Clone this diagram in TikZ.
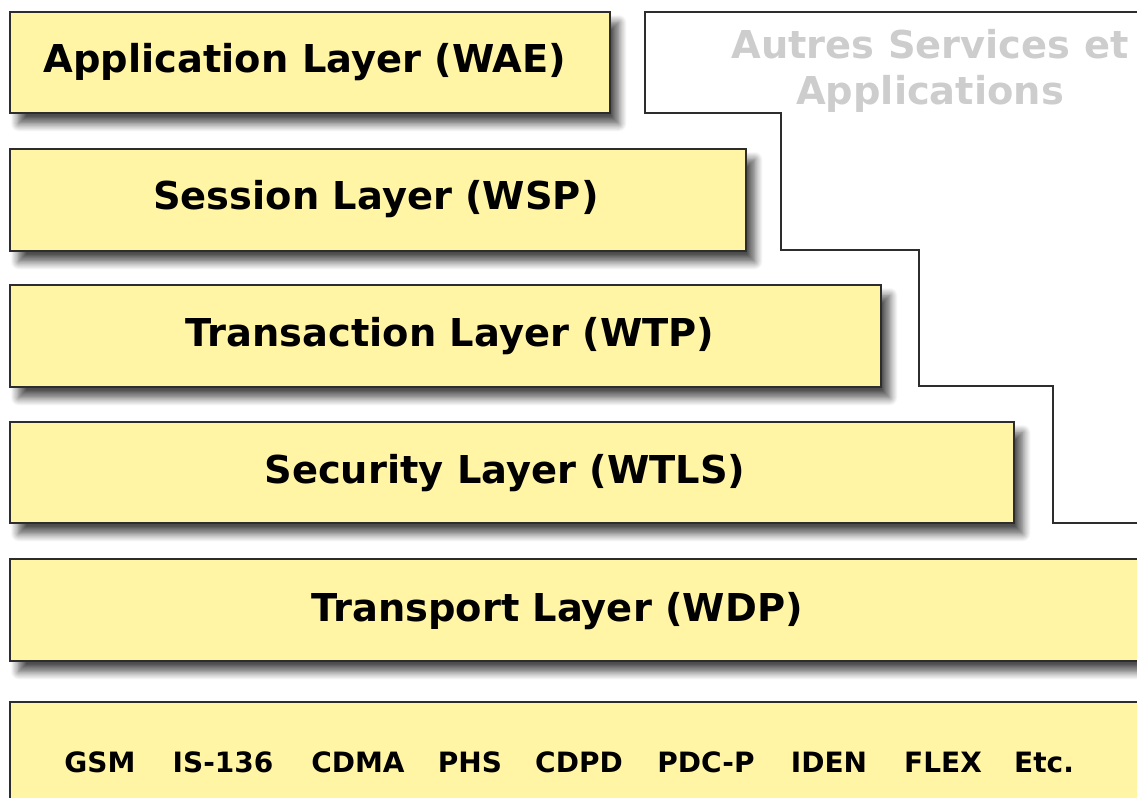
\documentclass[tikz,border=0pt]{standalone}
\usepackage{fontspec}
\setmainfont{DejaVu Sans}
\usetikzlibrary{shadows.blur}
\definecolor{layerfill}{RGB}{255,245,165}
\definecolor{layerline}{RGB}{45,45,45}
\definecolor{autresgray}{RGB}{205,205,205}
\tikzset{
  layer/.style={fill=layerfill, draw=layerline, line width=1.6pt,
    blur shadow={shadow xshift=6.5pt, shadow yshift=-8pt, shadow blur radius=6pt, shadow blur steps=10, shadow opacity=70}},
  lbl/.style={font=\fontsize{28.8}{34.5}\selectfont\bfseries, anchor=base, inner sep=0pt},
  techlbl/.style={font=\fontsize{21}{25}\selectfont\bfseries, anchor=base, inner sep=0pt},
}

\begin{document}
\begin{tikzpicture}[x=0.75pt, y=-0.75pt]
  \useasboundingbox (0,0) rectangle (1137,798);
  \clip (0,0) rectangle (1137,798);
  % other services (staircase)
  \draw[layerline, line width=1.6pt] (1160,12) -- (645,12) -- (645,113) -- (781,113) -- (781,250) -- (919,250)
    -- (919,386) -- (1053,386) -- (1053,523) -- (1160,523);
  \node[lbl, anchor=center, align=center, text=autresgray] (autres) at (930,71) {Autres Services et\\Applications};
  % layers
  \filldraw[layer] (10,12) rectangle (610,113);
  \filldraw[layer] (10,149) rectangle (746,251);
  \filldraw[layer] (10,285) rectangle (881,387);
  \filldraw[layer] (10,422) rectangle (1014,523);
  \filldraw[layer] (10,559) rectangle (1160,661);
  \filldraw[layer] (10,702) rectangle (1160,830);
  \node[lbl] (wae) at (305,73) {Application Layer (WAE)};
  \node[lbl] (wsp) at (376,210) {Session Layer (WSP)};
  \node[lbl] (wtp) at (450,346) {Transaction Layer (WTP)};
  \node[lbl] (wtls) at (505,483) {Security Layer (WTLS)};
  \node[lbl] (wdp) at (557,621) {Transport Layer (WDP)};
  % bearers
  \foreach \x/\tech/\nm in {100/GSM/gsm, 223/IS-136/is, 358/CDMA/cdma, 470/PHS/phs, 579/CDPD/cdpd,
      706/PDC-P/pdcp, 829/IDEN/iden, 943/FLEX/flex, 1044/Etc./etc}
    \node[techlbl] (\nm) at (\x,772) {\tech};
\end{tikzpicture}
\end{document}
